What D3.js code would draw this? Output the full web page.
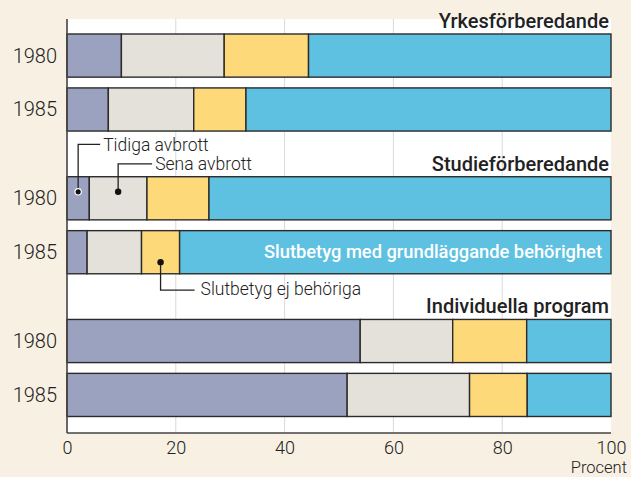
<!DOCTYPE html>
<html><head><meta charset="utf-8">
<script src="https://cdn.jsdelivr.net/npm/d3@7"></script>
<style>
html,body{margin:0;padding:0;background:#f8f0e3;}
svg{display:block;}
text{font-family:Roboto,"Noto Sans",sans-serif;fill:#222;}
</style></head>
<body><svg id="c" width="631" height="477"></svg>
<script>
const groups = ["Yrkesförberedande", "Studieförberedande", "Individuella program"];
const years = ["1980", "1985"];
const categories = ["Tidiga avbrott", "Sena avbrott", "Slutbetyg ej behöriga", "Slutbetyg med grundläggande behörighet"];
// one value per bar: Yrkes 1980, Yrkes 1985, Studie 1980, Studie 1985, Indiv 1980, Indiv 1985
const tidiga     = [10.0, 7.6, 4.1, 3.7, 53.9, 51.5];
const sena       = [18.9, 15.7, 10.6, 10.0, 17.0, 22.5];
const ejBehoriga = [15.5, 9.6, 11.4, 7.0, 13.6, 10.6];
const behorighet = [55.6, 67.1, 73.9, 79.3, 15.5, 15.4];
const xTicks = [0, 20, 40, 60, 80, 100];
const colors = ["#9ba2c0", "#e4e0da", "#fed97a", "#5ec1e1"];

const series = [tidiga, sena, ejBehoriga, behorighet];
const rows = [];
groups.forEach((g, gi) => years.forEach((y, yi) => {
  const i = gi * 2 + yi;
  const row = {group: g, year: y};
  categories.forEach((c, ci) => row[c] = series[ci][i]);
  rows.push(row);
}));

const svg = d3.select("#c");
const L = 67, R = 611, T = 19, B = 433;
const x = d3.scaleLinear().domain([0, 100]).range([L, R]);
const yG = d3.scaleBand().domain(groups).range([34, 416.5]).paddingInner(0.32).paddingOuter(0);
const yY = d3.scaleBand().domain(years).range([0, yG.bandwidth()]).paddingInner(0.2).paddingOuter(0);
const yPos = d => yG(d.group) + yY(d.year);

// plot area
svg.append("rect").attr("x", L).attr("y", T).attr("width", R - L).attr("height", B - T).attr("fill", "#fff");
// gridlines
svg.append("g").selectAll("line").data(xTicks.filter(t => t > 0 && t < 100)).join("line")
  .attr("x1", d => x(d)).attr("x2", d => x(d)).attr("y1", T).attr("y2", B)
  .attr("stroke", "#d9d9d9").attr("stroke-width", 1);

// bars
const stack = d3.stack().keys(categories)(rows);
svg.append("g").selectAll("g").data(stack).join("g")
  .attr("fill", (d, i) => colors[i])
  .selectAll("rect").data(d => d).join("rect")
  .attr("x", d => x(d[0])).attr("width", d => x(d[1]) - x(d[0]))
  .attr("y", d => yPos(d.data)).attr("height", yY.bandwidth())
  .attr("stroke", "#2b2b2b").attr("stroke-width", 1.4);

// axes
const xAxis = d3.axisBottom(x).tickValues(xTicks).tickSize(0).tickPadding(8);
const gx = svg.append("g").attr("transform", `translate(0,${B})`).call(xAxis);
gx.select(".domain").remove();
gx.selectAll("text").attr("font-size", 18).attr("font-family", "Roboto").attr("fill", "#222").attr("font-weight", 300);
svg.append("line").attr("x1", L).attr("x2", R).attr("y1", B).attr("y2", B).attr("stroke", "#444").attr("stroke-width", 1.6);
svg.append("line").attr("x1", L).attr("x2", L).attr("y1", T).attr("y2", B).attr("stroke", "#444").attr("stroke-width", 1.6);
svg.append("text").attr("x", 627).attr("y", 473).attr("text-anchor", "end").attr("font-size", 16.5).attr("font-weight", 300).text("Procent");

// year labels
svg.append("g").selectAll("text").data(rows).join("text")
  .attr("x", 57).attr("y", d => yPos(d) + yY.bandwidth() / 2 + 7)
  .attr("text-anchor", "end").attr("font-size", 20).attr("font-weight", 300).text(d => d.year);

// group titles
svg.append("g").selectAll("text").data(groups).join("text")
  .attr("x", 609).attr("y", d => yG(d) - 6)
  .attr("text-anchor", "end").attr("font-size", 20).attr("font-weight", 500).text(d => d);

// annotations
const s1980 = rows[2], s1985 = rows[3];
const mid = (row, k) => { const ci = categories.indexOf(k); let s = 0; for (let j = 0; j < ci; j++) s += row[categories[j]]; return x(s + row[k] / 2); };
const line = d3.line();
const ann = svg.append("g");
const bt = yPos(s1980), bt2 = yPos(s1985), bh = yY.bandwidth();
const fs = 17.5;
// Tidiga
const tx = mid(s1980, categories[0]), ty = bt + bh * 0.35;
ann.append("path").attr("d", line([[tx, ty], [tx, ty - 47.5], [tx + 22, ty - 47.5]])).attr("fill", "none").attr("stroke", "#222").attr("stroke-width", 1.3);
ann.append("circle").attr("cx", tx).attr("cy", ty).attr("r", 3.2).attr("fill", "#111").attr("stroke", "#fff").attr("stroke-width", 1.2);
ann.append("text").attr("x", tx + 25).attr("y", ty - 41).attr("font-size", fs).attr("font-weight", 300).text(categories[0]);
// Sena
const sx = mid(s1980, categories[1]), sy = ty;
ann.append("path").attr("d", line([[sx, sy], [sx, sy - 28], [sx + 34, sy - 28]])).attr("fill", "none").attr("stroke", "#222").attr("stroke-width", 1.3);
ann.append("circle").attr("cx", sx).attr("cy", sy).attr("r", 3.2).attr("fill", "#111");
ann.append("text").attr("x", sx + 37).attr("y", sy - 21.5).attr("font-size", fs).attr("font-weight", 300).text(categories[1]);
// Ej behöriga
const ex = mid(s1985, categories[2]), ey = bt2 + bh * 0.73;
ann.append("path").attr("d", line([[ex, ey], [ex, ey + 28], [ex + 34, ey + 28]])).attr("fill", "none").attr("stroke", "#222").attr("stroke-width", 1.3);
ann.append("circle").attr("cx", ex).attr("cy", ey).attr("r", 3.2).attr("fill", "#111");
ann.append("text").attr("x", ex + 40).attr("y", ey + 33).attr("font-size", fs).attr("font-weight", 300).text(categories[2]);
// Behörighet (inside bar)
ann.append("text").attr("x", 602).attr("y", bt2 + bh / 2 + 6).attr("text-anchor", "end")
  .attr("font-size", 18.3).attr("font-weight", 500).style("fill", "#fff").text(categories[3]);
</script></body></html>
